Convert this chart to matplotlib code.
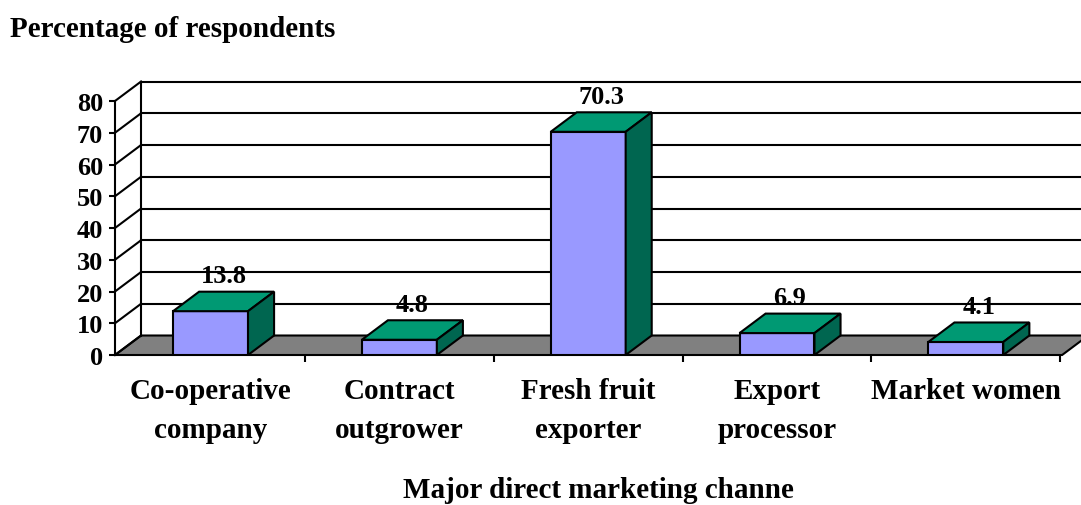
import numpy as np
import matplotlib.pyplot as plt
from matplotlib.patches import Polygon

plt.rcParams['font.family'] = ['Liberation Serif', 'DejaVu Serif']
plt.rcParams['font.weight'] = 'bold'

# data
categories = ["Co-operative\ncompany", "Contract\noutgrower", "Fresh fruit\nexporter",
              "Export\nprocessor", "Market women"]
values = [13.8, 4.8, 70.3, 6.9, 4.1]
value_labels = ["13.8", "4.8", "70.3", "6.9", "4.1"]
yticks = [0, 10, 20, 30, 40, 50, 60, 70, 80]

front_col = "#9999FF"
top_col = "#009973"
side_col = "#006650"
floor_col = "#808080"

W, H = 1081, 506
fig = plt.figure(figsize=(W / 100, H / 100), dpi=100)
# axes in pixel box: x 115..1081, y 82..356 (image coords)
ax = fig.add_axes([115 / W, (H - 356) / H, (1081 - 115) / W, (356 - 82) / H])

x = np.arange(len(values))
xmin, xmax = -0.506, 4.61
ymax = 86.3
ax.set_xlim(xmin, xmax)
ax.set_ylim(0, ymax)

bw = 0.397          # bar width (category units)
ddx = 0.138         # depth offset in x
ddy = 6.14          # depth offset in y (value units)
lw = 1.5
right_end = 4.51    # front edge end of floor

# floor
ax.add_patch(Polygon([(xmin, 0), (right_end, 0), (right_end + ddx, ddy), (xmin + ddx, ddy)],
                     closed=True, facecolor=floor_col, edgecolor="black", lw=lw, zorder=1,
                     clip_on=False))

# walls: back vertical line, gridlines, diagonal lines on left wall
bx = xmin + ddx
ax.plot([bx, bx], [ddy, 80 + ddy], color="black", lw=lw, zorder=2, clip_on=False)
for t in yticks:
    ax.plot([xmin, bx], [t, t + ddy], color="black", lw=lw, zorder=2, clip_on=False)
    if t > 0:
        ax.plot([bx, xmax], [t + ddy, t + ddy], color="black", lw=lw, zorder=2, clip_on=False)
ax.plot([xmin, xmin], [0, 80], color="black", lw=lw, zorder=2, clip_on=False)

# 3D bars
for i, v in enumerate(values):
    x0 = x[i] - bw / 2
    x1 = x[i] + bw / 2
    ax.bar(x[i], v, width=bw, color=front_col, edgecolor="black", lw=lw, zorder=5)
    ax.add_patch(Polygon([(x0, v), (x1, v), (x1 + ddx, v + ddy), (x0 + ddx, v + ddy)],
                         closed=True, facecolor=top_col, edgecolor="black", lw=lw, zorder=5))
    ax.add_patch(Polygon([(x1, 0), (x1 + ddx, ddy), (x1 + ddx, v + ddy), (x1, v)],
                         closed=True, facecolor=side_col, edgecolor="black", lw=lw, zorder=5))
    ax.text(x[i] + ddx / 2, v + ddy + 3.0, value_labels[i], ha="center", va="baseline",
            fontsize=19, fontweight="bold", zorder=6)

for s in ax.spines.values():
    s.set_visible(False)

ax.set_yticks(yticks)
ax.set_yticklabels([str(t) for t in yticks], fontsize=19, fontweight="bold")
ax.tick_params(axis="y", length=4.5, width=lw, pad=4)

ax.set_xticks(np.arange(len(values)) + 0.5)
ax.set_xticklabels([])
ax.set_xticks(x, minor=True)
ax.set_xticklabels(categories, minor=True, fontsize=21, fontweight="bold", linespacing=1.55)
ax.tick_params(axis="x", which="major", length=5, width=lw)
ax.tick_params(axis="x", which="minor", length=0, pad=16)

fig.text(10 / W, 1 - 37 / H, "Percentage of respondents", fontsize=21, fontweight="bold",
         ha="left", va="baseline")
fig.text(598 / W, 1 - 498 / H, "Major direct marketing channe", fontsize=21,
         fontweight="bold", ha="center", va="baseline")

fig.savefig("out.png", dpi=100)
